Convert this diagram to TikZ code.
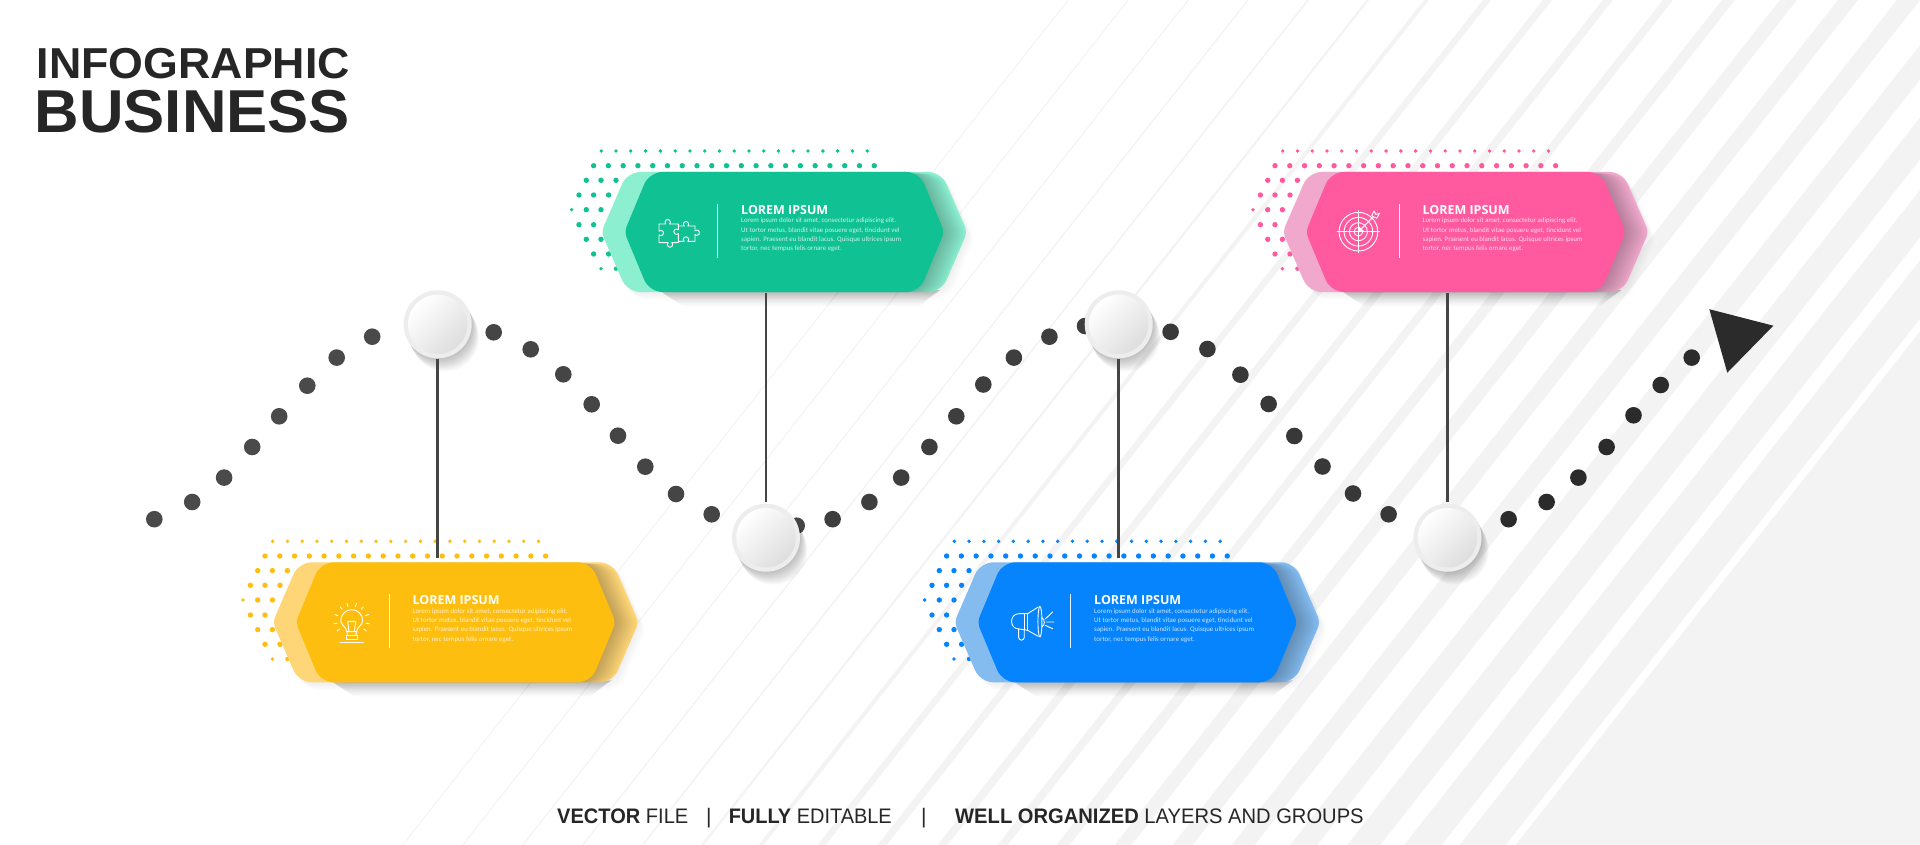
\documentclass[tikz,border=0pt]{standalone}
\usepackage{fontspec}
\usepackage{graphicx}
\setmainfont{Liberation Sans}
\newfontfamily\cardbody{Carlito}
\newfontfamily\cardhead{Open Sans}
\definecolor{bandgray}{HTML}{F3F3F3}
\definecolor{yelMain}{HTML}{FEBE10}\definecolor{yelBack}{HTML}{FFD677}
\definecolor{grnMain}{HTML}{10C293}\definecolor{grnBack}{HTML}{8CEFD0}
\definecolor{pnkMain}{HTML}{FF5AA0}\definecolor{pnkBack}{HTML}{F0A8CC}
\definecolor{bluMain}{HTML}{0684FE}\definecolor{bluBack}{HTML}{84BCF0}
\definecolor{dotA}{HTML}{4A4A4A}\definecolor{dotB}{HTML}{454545}
\definecolor{dotC}{HTML}{3E3E3E}\definecolor{dotD}{HTML}{383838}
\definecolor{dotE}{HTML}{2B2B2B}
\definecolor{inkdark}{HTML}{262626}
\definecolor{hubring}{HTML}{EDEDED}
\tikzset{
  connector/.style={draw=dotB,line width=2.6pt},
  hubnode/.style={circle,fill=hubring,minimum size=68pt,inner sep=0pt},
  iconline/.style={draw=white,line width=0.9pt,line join=round,line cap=round},
  cardtext/.style={anchor=west,inner sep=0pt,text=white},
  footer/.style={anchor=base west,inner sep=0pt,text=inkdark,font=\fontsize{21}{24}\selectfont},
}
% tips get a small radius, the four upper and lower corners a larger one
\def\hex#1#2{[rounded corners=13pt] (0,-60) -- (#2,-60) [rounded corners=6pt] -- (#1,0) [rounded corners=13pt] -- (#2,60) -- (-#2,60) [rounded corners=6pt] -- (-#1,0) [rounded corners=13pt] -- (-#2,-60) -- cycle}
% icons, drawn in the units of a 3x enlargement
\newcommand\iconbulb{%
  \begin{scope}[shift={(-104,1)},x=0.3333pt,y=-0.3333pt,iconline]
    \draw (-15,25) .. controls (-15,12) and (-33,5) .. (-33,-8) arc[start angle=180,end angle=360,radius=33] .. controls (33,5) and (15,12) .. (15,25) -- cycle;
    \draw (-8,25) -- (-12,-6) -- (12,-6) -- (8,25);
    \draw (-17,36) rectangle (17,48);
    \draw (-15,25) -- (-12,36) (15,25) -- (12,36);
    \draw (-35,56) -- (35,56);
    \foreach \a in {145,170,200,230,255,285,310,340,10,35}
      \draw (\a:44) ++(0,-8) -- ++(\a:10);
  \end{scope}}
\newcommand\iconpuzzle{%
  \begin{scope}[shift={(-104.3,0.7)},x=0.3333pt,y=-0.3333pt,iconline]
    \draw (-63,-26) -- (-42.6,-26) arc[start angle=135,end angle=405,radius=8] -- (-5,-26) -- (-5,-8.6) arc[start angle=-45,end angle=-315,radius=8] -- (-5,30) -- (-24.4,30) arc[start angle=-45,end angle=225,radius=8] -- (-63,30) -- (-63,6.6) arc[start angle=135,end angle=-135,radius=8] -- cycle;
    \draw (-5,-20) -- (12.4,-20) arc[start angle=135,end angle=405,radius=8] -- (45,-20) -- (45,-5.6) arc[start angle=-135,end angle=135,radius=8] -- (45,26) -- (23.6,26) arc[start angle=45,end angle=-225,radius=8] -- (-5,26);
  \end{scope}}
\newcommand\icontarget{%
  \begin{scope}[shift={(-107.3,-0.3)},x=0.3333pt,y=-0.3333pt,iconline]
    \foreach \r in {58,43,27,13} \draw (0,0) circle[radius=\r];
    \draw (-63,0) -- (63,0) (0,-63) -- (0,63);
    \draw (3,-3) -- (45,-45);
    \draw (3,-3) -- (3,-14) (3,-3) -- (14,-3);
    \draw (40,-48) -- (47,-62) -- (52,-52) -- (63,-55) -- (55,-40) -- cycle;
  \end{scope}}
\newcommand\iconmega{%
  \begin{scope}[shift={(-104.7,0.7)},x=0.3333pt,y=-0.3333pt,iconline]
    \draw (-15,-28) -- (17,-48) (-15,22) -- (17,40);
    \draw (22,-4) ellipse[x radius=6,y radius=46];
    \draw (-15,-28) -- (-15,22) (-25,-28) -- (-25,20);
    \draw (-15,-28) -- (-40,-28) .. controls (-55,-28) and (-63,-18) .. (-63,-5) .. controls (-63,8) and (-55,18) .. (-40,18) -- (-15,22);
    \draw (-42,18) -- (-42,43) arc[start angle=180,end angle=0,radius=8.5] -- (-25,20);
    \draw (27,-16) .. controls (38,-12) and (38,8) .. (27,12);
    \draw (38,-12) -- (60,-33) (42,-3) -- (64,-3) (38,7) -- (60,17);
  \end{scope}}
% one card: name, centre x, centre y, main colour, back colour, icon
\newcommand\infocard[6]{%
  \begin{scope}[shift={(#2,#3)}]
    \foreach \n in {0,...,18}
      \fill[#4] (-183+14.77*\n,-81) circle[radius=1.9pt];
    \foreach \n in {0,...,19}
      \fill[#4] (-190.7+14.77*\n,-66.3) circle[radius=2.7pt];
    \foreach \px/\py/\pr in {-198/-51.7/2.7,-183.3/-51.7/2.7,-168.3/-51.7/2.7,
      -205.3/-37/2.7,-190.7/-37/2.7,-175.7/-37/2.7,
      -212.7/-22.3/1.9,-198/-22.3/2.7,-183.3/-22.3/2.7,
      -205.3/-7.3/2.7,-190.7/-7.3/2.7,
      -198/7.3/2.7,-183.3/7.3/2.7,
      -190.7/22/2.7,-175.7/22/2.7,
      -183.3/36.7/1.9,-168.3/36.7/2.2}
      \fill[#4] (\px,\py) circle[radius=\pr pt];
    % soft shadow beneath the card
    \foreach \k in {1,...,10}
      \fill[black,opacity=0.018] (-125,58) -- (-125+\k*2.4,60+\k*1.4) -- (150-\k*1.5,60+\k*1.4) -- (156,58) -- cycle;
    \foreach \k in {1,...,8}
      \fill[black,opacity=0.008,shift={(\k*0.9,\k*1)}] \hex{183}{157};
    \fill[#5] \hex{183}{157};
    \begin{scope}
      \clip \hex{183}{157};
      \foreach \k in {1,...,10}
        \fill[black,opacity=0.022,shift={(\k*2.2,\k*0.2)}] \hex{160}{135};
    \end{scope}
    \fill[#4] \hex{160}{135};
    \draw[white,opacity=0.9,line width=1pt] (-66.7,-28.3) -- (-66.7,26);
    #6
    \node[cardtext] (#1title) at (-43.3,-22.3) {\resizebox{87pt}{!}{\cardhead\bfseries LOREM IPSUM}};
    \node[cardtext,anchor=north west,align=left,text=white!78!#4,
      font=\cardbody\fontsize{6.9}{9.33}\selectfont] (#1body) at (-43.3,-14.2)
      {Lorem ipsum dolor sit amet, consectetur adipiscing elit.\\
       Ut tortor metus, blandit vitae posuere eget, tincidunt vel\\
       sapien. Praesent eu blandit lacus. Quisque ultrices ipsum\\
       tortor, nec tempus felis ornare eget.};
  \end{scope}
  \node[minimum width=317pt,minimum height=120pt,inner sep=0pt,outer sep=0pt] (#1) at (#2,#3) {};
}
\newcommand\hubcircle[3]{%
  \foreach \k in {1,...,8}
    \fill[black,opacity=0.03] (#2+\k*0.9,#3+\k*1.6) circle[radius=34pt];
  \node[hubnode] (#1) at (#2,#3) {};
  \shade[top color=white,bottom color=black!13,shading angle=45] (#1) circle[radius=29.7pt];
}
\begin{document}
\begin{tikzpicture}[x=1pt,y=-1pt]
  \useasboundingbox (0,0) rectangle (1920,845);
  \fill[white] (0,0) rectangle (1920,845);
  \begin{scope}
    \clip (0,0) rectangle (1920,845);
    \foreach \ta/\tb in {1067.5/1068.7,1127.5/1128.8,1187.4/1188.9,1247.2/1248.9,1307/1309,1366.5/1369.2,
      1424/1429,1483/1491,1543/1552,1603/1613,1663/1673,1722/1735,1780/1797,1838/1858,1897/1920,
      1955.6/1982.6,2012.6/2045.6,2069.6/2107,2125/2171}
      \fill[bandgray] (\ta,0) -- (\tb,0) -- (\tb-665.4,845) -- (\ta-665.4,845) -- cycle;
    \fill[bandgray] (2181,0) -- (2181-665.4,845) -- (1920,845) -- (1920,0) -- cycle;
  \end{scope}
  % dotted path
  \foreach \dx/\dy in {154.3/519.2,192.2/502,224.1/477.6,252.2/447,279.2/416.3,307.3/385.7,336.7/357.6,372.2/336.7}
    \fill[dotA] (\dx,\dy) circle[radius=8.3pt];
  \foreach \dx/\dy in {493.7/332.3,530.7/349.3,563.3/374.3,591.7/404.3,618/435.7,645.3/466.7,676/494,711.7/514.3,796.7/525.7}
    \fill[dotB] (\dx,\dy) circle[radius=8.3pt];
  \foreach \dx/\dy in {832.6/519.2,869.4/502,901.2/477.6,929.4/447,956.3/416.3,983.3/384.5,1013.9/357.6,1049.4/336.7,1085/326}
    \fill[dotC] (\dx,\dy) circle[radius=8.3pt];
  \foreach \dx/\dy in {1170.6/331.8,1207.4/349,1240.4/374.7,1268.6/404,1294.3/436,1322.5/466.5,1353/493.5,1388.6/514.3}
    \fill[dotD] (\dx,\dy) circle[radius=8.3pt];
  \foreach \dx/\dy in {1508.6/519.2,1546.6/502,1578.4/477.6,1606.6/447,1633.5/415.3,1660.7/385,1691.7/357.6}
    \fill[dotE] (\dx,\dy) circle[radius=8.3pt];
  \fill[dotE] (1709.3,309.2) -- (1773.3,325.7) -- (1727.3,372.7) -- cycle;
  % cards
  \infocard{cardY}{455.7}{622.3}{yelMain}{yelBack}{\iconbulb}
  \infocard{cardG}{784.3}{232}{grnMain}{grnBack}{\iconpuzzle}
  \infocard{cardP}{1465.7}{232}{pnkMain}{pnkBack}{\icontarget}
  \infocard{cardB}{1137.3}{622.3}{bluMain}{bluBack}{\iconmega}
  % hubs
  \hubcircle{hubA}{437.7}{324.3}
  \hubcircle{hubB}{766}{537.7}
  \hubcircle{hubC}{1118.7}{324.3}
  \hubcircle{hubD}{1447.5}{537.7}
  % connectors
  \draw[connector,shorten >=4.5pt] (hubA.south) -- (hubA.south |- cardY.north);
  \draw[connector,shorten >=2pt,shorten <=1pt] (hubB.north |- cardG.south) -- (hubB.north);
  \draw[connector,shorten >=4.5pt] (hubC.south) -- (hubC.south |- cardB.north);
  \draw[connector,shorten >=2pt,shorten <=1pt] (hubD.north |- cardP.south) -- (hubD.north);
  % headline
  \node[anchor=base west,inner sep=0pt,text=inkdark,font=\bfseries\fontsize{43.3}{46}\selectfont] (head1) at (36.7,78.3) {\scalebox{1.033}[1]{INFOGRAPHIC}};
  \node[anchor=base west,inner sep=0pt,text=inkdark,font=\bfseries\fontsize{60.6}{64}\selectfont] (head2) at (34.5,132.7) {\scalebox{1.018}[1]{BUSINESS}};
  % footer
  \node[footer] (foot1) at (557,823) {\scalebox{0.955}[1]{\textbf{VECTOR} FILE}};
  \node[footer] (bar1) at (706,823) {|};
  \node[footer] (foot2) at (728.6,823) {\scalebox{0.95}[1]{\textbf{FULLY} EDITABLE}};
  \node[footer] (bar2) at (921,823) {|};
  \node[footer] (foot3) at (955,823) {\scalebox{0.96}[1]{\textbf{WELL ORGANIZED} LAYERS AND GROUPS}};
\end{tikzpicture}
\end{document}
